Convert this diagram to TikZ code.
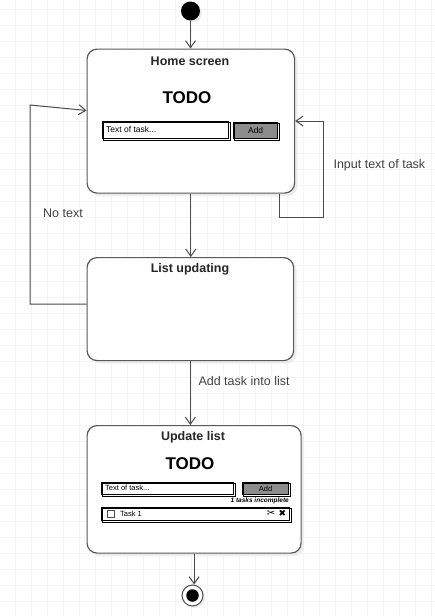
\documentclass[tikz,border=0pt]{standalone}
\usepackage{fontspec}
\setmainfont{Liberation Sans}
\newfontfamily\symfont{DejaVu Sans}
\usetikzlibrary{arrows.meta,calc,shadows}
\begin{document}
\begin{tikzpicture}[x=1pt,y=-1pt,
  gridline/.style={draw=black!4, line width=0.8pt},
  state/.style={draw=black!65, line width=1.2pt, rounded corners=10pt, fill=white,
    anchor=north west, inner sep=0pt,
    drop shadow={shadow xshift=3pt, shadow yshift=-3pt, fill=black!7, opacity=1}},
  title/.style={font=\bfseries\fontsize{12.5}{14}\selectfont, text=black!85},
  conn/.style={draw=black!70, line width=1pt, -{Straight Barb[length=7pt,width=10pt]}},
  lbl/.style={font=\fontsize{12.5}{14}\selectfont, text=black!75},
  todo/.style={font=\bfseries\fontsize{17}{19}\selectfont},
  field/.style={draw=black, line width=1.3pt, fill=white, anchor=north west, inner sep=0pt},
  btn/.style={draw=black, line width=1.3pt, fill=black!45, anchor=north west, inner sep=0pt},
  small/.style={font=\fontsize{8.5}{9}\selectfont, inner sep=0pt},
  tiny/.style={font=\fontsize{7.5}{8}\selectfont, inner sep=0pt}
]
\fill[white] (0,0) rectangle (435,616);
\useasboundingbox (0,0) rectangle (435,616);
\foreach \x in {15,31,...,431} \draw[gridline] (\x,0) -- (\x,616);
\foreach \y in {9,25,...,616} \draw[gridline] (0,\y) -- (435,\y);

% start / end
\node[circle, fill=black, minimum size=19pt, inner sep=0pt,
  drop shadow={shadow xshift=2pt, shadow yshift=-2pt, fill=black!7, opacity=1}] (start) at (190.5,11) {};
\node[circle, draw=black!70, line width=1pt, fill=white, minimum size=21pt, inner sep=0pt,
  drop shadow={shadow xshift=2pt, shadow yshift=-2pt, fill=black!7, opacity=1}] (end) at (192.5,595.5) {};
\node[circle, fill=black, minimum size=12.5pt, inner sep=0pt] (endin) at (end.center) {};

% states
\node[state, minimum width=207.5pt, minimum height=144pt] (home) at (86.5,48.5) {};
\node[state, minimum width=206.5pt, minimum height=103pt] (upd) at (86.5,257) {};
\node[state, minimum width=214pt, minimum height=127.5pt] (ulist) at (86.5,425) {};

\node[title] (t1) at (190,61) {Home screen};
\node[title] (t2) at (190,269) {List updating};
\node[title] (t3) at (193,437) {Update list};

% home mockup
\node[todo] (todo1) at (187,98) {TODO};
\node[field, minimum width=126pt, minimum height=17pt] (f1) at (102,121) {};
\draw[black, line width=0.7pt] ($(f1.north west)+(1.5,1.5)$) rectangle ($(f1.south east)+(1.5,1.5)$);
\node[small, anchor=west] (f1t) at (106,129.5) {Text of task...};
\node[btn, minimum width=44pt, minimum height=16pt] (b1) at (233,122) {};
\draw[black, line width=0.7pt] ($(b1.north west)+(1.5,1.5)$) rectangle ($(b1.south east)+(1.5,1.5)$);
\node[small] (b1t) at (b1.center) {Add};

% update list mockup
\node[todo] (todo2) at (190,464) {TODO};
\node[field, minimum width=132pt, minimum height=12pt] (f2) at (101,482) {};
\draw[black, line width=0.7pt] ($(f2.north west)+(1.2,1.2)$) rectangle ($(f2.south east)+(1.2,1.2)$);
\node[tiny, anchor=west] (f2t) at (105,488) {Text of task...};
\node[btn, minimum width=46pt, minimum height=12pt] (b2) at (242,482) {};
\draw[black, line width=0.7pt] ($(b2.north west)+(1.2,1.2)$) rectangle ($(b2.south east)+(1.2,1.2)$);
\node[tiny] (b2t) at (b2.center) {Add};
\node[font=\bfseries\itshape\fontsize{6.5}{7}\selectfont, inner sep=0pt, anchor=east] (inc) at (289,500.5) {1 tasks incomplete};
\node[field, minimum width=188pt, minimum height=13pt] (row) at (101,507) {};
\draw[black, line width=0.7pt] ($(row.north west)+(1.2,1.2)$) rectangle ($(row.south east)+(1.2,1.2)$);
\node[draw=black!70, line width=0.5pt, minimum size=7pt, inner sep=0pt] (cb) at (110.5,514) {};
\node[tiny, anchor=west] (task) at (120,514) {Task 1};
\node[font=\symfont\bfseries\fontsize{10}{11}\selectfont, inner sep=0pt] (ic1) at (271,513.5) {✂};
\node[font=\symfont\fontsize{9}{10}\selectfont, inner sep=0pt] (ic2) at (282.5,513.5) {✖};

% connectors
\draw[conn] (start.south) -- (start.south |- home.north);
\draw[conn] (home.south) -- (home.south |- upd.north);
\draw[conn] (upd.south) -- (upd.south |- ulist.north);
\draw[conn] (ulist.south) -- (ulist.south |- end.north);

\coordinate (l1) at ($(home.south east)+(-16,0)$);
\coordinate (l2) at (323,217);
\coordinate (l3) at ($(home.north east)+(0,72.5)$);
\draw[conn] (l1) |- (l2) |- (l3);

\coordinate (n1) at ($(upd.north west)+(0,47)$);
\coordinate (n2) at (30,304);
\coordinate (n3) at (30,105);
\coordinate (n4) at ($(home.north west)+(0,62)$);
\draw[conn] (n1) -- (n2) -- (n3) -- (n4);

% labels
\node[lbl, anchor=west] (lb1) at (330,165) {Input text of task};
\node[lbl] (lb2) at (63,213) {No text};
\node[lbl, anchor=west] (lb3) at (195,381) {Add task into list};
\end{tikzpicture}
\end{document}
